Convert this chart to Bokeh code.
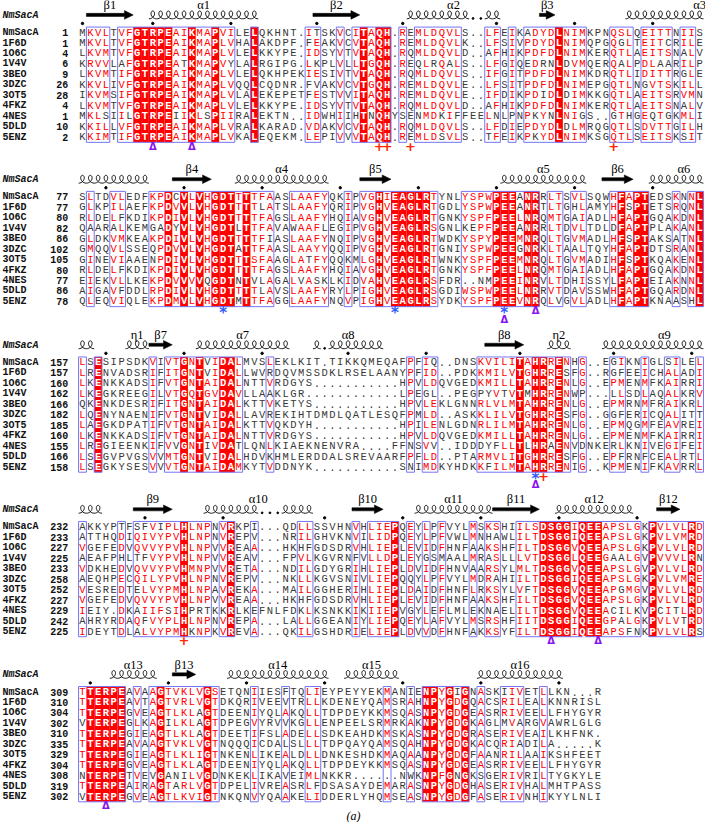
import math
from bokeh.plotting import figure
from bokeh.models import Range1d, ColumnDataSource
from bokeh.core.properties import value
from bokeh.embed import file_html
from bokeh.resources import INLINE

names = ["NmSacA", "1F6D", "1O6C", "1V4V", "3BEO", "3DZC", "3OT5", "4FKZ", "4NES", "5DLD", "5ENZ"]

seq_block1 = [
    "MKVLTVFGTRPEAIKMAPVILELQKHNT.ITSKVCITAQH.REMLDQVLS..LFEIKADYDLNIMKPNQSLQEITTNIIS",
    "MKVLTVFGTRPEAIKMAPLVHALAKDPF.FEAKVCVTAQH.REMLDQVLK..LFSIVPDYDLNIMQPGQGLTEITCRILE",
    "LKVMTVFGTRPEAIKMAPLVLELKKYPE.IDSYVTVTAQH.RQMLDQVLD..AFHIKPDFDLNIMKERQTLAEITSNALV",
    "KRVVLAFGTRPEATKMAPVYLALRGIPG.LKPLVLLTGQH.REQLRQALS..LFGIQEDRNLDVMQERQALPDLAARILP",
    "LKVMTIFGTRPEAIKMAPLVLELQKHPEKIESIVTVTAQH.RQMLDQVLS..IFGITPDFDLNIMKDRQTLIDITTRGLE",
    "KKVLIVFGTRPEAIKMAPLVQQLCQDNR.FVAKVCVTGQH.REMLDQVLE..LFSITPDFDLNIMEPGQTLNGVTSKILL",
    "IKVMSIFGTRPEAIKMAPLVLALEKEPETFESTVVITAQH.REMLDQVLE..IFDIKPDIDLDIMKKGQTLAEITSRVMN",
    "LKVMTVFGTRPEAIKMAPLVLELKKYPE.IDSYVTVTAQH.RQMLDQVLD..AFHIKPDFDLNIMKERQTLAEITSNALV",
    "MKLSIILGTRPEIIKLSPIIRALEKTN..IDWHIIHTNQHYSENMDKIFFEELNLPNPKYNLNIGS..GTHGEQTGKMLI",
    "KKILLVFGTRPEAIKMAPLVRALKARAD.VDAKVCVTAQH.RQMLDQVLS..LFDIEPDYDLDLMRQGQTLSDVTTGILH",
    "KKIMTIFGTRPEAIKMAPLVKALEQEKM.LEPIVVVTAQH.REMLDSVLS..TFEIKPKYDLNIMKSGQTLSEITSKSIT",
]
seq_block2 = [
    "SLTDVLEDFKPDCVLVHGDTTTTFAASLAAFYQKIPVGHIEAGLRTYNLYSPWPEEANRRLTSVLSQWHFAPTEDSKNNL",
    "GLKPILAEFKPDVVLVHGDTTTTLATSLAAFYQRIPVGHVEAGLRTGDLYSPWPEEANRTLTGHLAMYHFSPTETSRQNL",
    "RLDELFKDIKPDIVLVHGDTTTTFAGSLAAFYHQIAVGHVEAGLRTGNKYSPFPEELNRQMTGAIADLHFAPTGQAKDNL",
    "QAARALKEMGADYVLVHGDTLTTFAVAWAAFLEGIPVGHVEAGLRSGNLKEPFPEEANRRLTDVLTDLDFAPTPLAKANL",
    "GLDKVMKEAKPDIVLVHGDTTTTFIASLAAFYNQIPVGHVEAGLRTWDKYSPYPEEMNRQLTGVMADLHFSPTAKSATNL",
    "GMQQVLSSEQPDVVLVHGDTATTFAASLAAYYQQIPVGHVEAGLRTGNIYSPWPEEGNRKLTAALTQYHFAPTDTSRANL",
    "GINEVIAAENPDIVLVHGDTTTSFAAGLATFYQQKMLGHVEAGLRTWNKYSPFPEEMNRQLTGVMADIHFSPTKQAKENL",
    "RLDELFKDIKPDIVLVHGDTTTTFAGSLAAFYHQIAVGHVEAGLRTGNKYSPFPEELNRQMTGAIADLHFAPTGQAKDNL",
    "EIEKVLLKEKPDVVVVQGDTNTVLAGALVASKLKIDVAHVEAGLRSFDR..NMPEEINRVLTDHISSYLFAPTEIAKNNL",
    "AIGAVFDDLRPDIVLVHGDTTTTLAVSLAAFYRYLPIGHVEAGLRSGDIWSPWPEELNRRVTDAVSSWHFAPTGQARDNL",
    "QLEQVIQLEKPDMVLVHGDTMTTFAGGLAAFYNQVPIGHVEAGLRSYDKYSPFPEEVNRQLVGVLADLHFAPTKNAASHL",
]
seq_block3 = [
    "LSESIPSDKVIVTGNTVIDALMVSLEKLKIT.TIKKQMEQAFPFIQ..DNSKVILITAHRRENHG..EGIKNIGLSILEL",
    "LRENVADSRIFITGNTVIDALLWVRDQVMSSDKLRSELAANYPFID..PDKKMILVTGHRRESFG..RGFEEICHALADI",
    "LKENKKADSIFVTGNTAIDALNTTVRDGYS...........HPVLDQVGEDKMILLTAHRRENLG..EPMENMFKAIRRI",
    "LKEGKREEGILVTGQTGVDAVLLAAKLGR............LPEGL..PEGPYVTVTMHRRENWP...LLSDLAQALKRV",
    "QKENKDESRIFITGNTAIDALKTTVKETYS...........HPVLEKLGNNRLVLMTAHRRENLG..EPMRNMFRAIKRL",
    "LQENYNAENIFVTGNTVIDALLAVREKIHTDMDLQATLESQFPMLD..ASKKLILVTGHRRESFG..GGFERICQALITT",
    "LAEGKDPATIFVTGNTAIDALKTTVQKDYH...........HPILENLGDNRLILMTAHRRENLG..EPMQGMFEAVREI",
    "LKENKKADSIFVTGNTAIDALNTTVRDGYS...........HPVLDQVGEDKMILLTAHRRENLG..EPMENMFKAIRRI",
    "LREGIEENKIFVVGNTIVDATLQNLKIAEKNENVRA....FFNSVV..IDDDYFLLTLHRAENVDNKERLKNIVEGIFEI",
    "LSEGVPVGSVVMTGNTVIDALHDVKHMLERDDALSREVAARFPFLD..PTARMVLITGHRRESFG..EPFRNFCEALRTL",
    "LSEGKYSESVVVTGNTAIDAMKYTVDDNYK...........SNIMDKYHDKKFILMTAHRRENIG..KPMENIFKAVRRL",
]
seq_block4 = [
    "AKKYPTFSFVIPLHLNPNVRKPI...QDLLSSVHNVHLIEPQEYLPFVYLMSKSHIILSDSGGIQEEAPSLGKPVLVLRD",
    "ATTHQDIQIVYPVHLNPNVREPV...NRILGHVKNVILIDPQEYLPFVWLMNHAWLILTDSGGIQEEAPSLGKPVLVMRD",
    "VGEFEDVQVVYPVHLNPVVREAA...HKHFGDSDRVHLIEPLEVIDFHNFAAKSHFILTDSGGVQEEAPSLGKPVLVLRD",
    "AEAFPHLTFVYPVHLNPVVREAV...FPVLKGVRNFVLLDPLEYGSMAALMRASLLLVTDSGGLQEEGAALGVPVVVLRN",
    "VDKHEDVQVVYPVHMNPVVRETA...NDILGDYGRIHLIEPLDVIDFHNVAARSYLMLTDSGGVQEEAPSLGVPVLVLRD",
    "AEQHPECQILYPVHLNPNVREPV...NKLLKGVSNIVLIEPQQYLPFVYLMDRAHIILTDSGGIQEEAPSLGKPVLVMRE",
    "VESREDTELVYPMHLNPAVREKA...MAILGGHERIHLIEPLDAIDFHNFLRKSYLVFTDSGGVQEEAPGMGVPVLVLRD",
    "VGEFEDVQVVYPVHLNPVVREAA...HKHFGDSDRVHLIEPLEVIDFHNFAAKSHFILTDSGGVQEEAPSLGKPVLVLRD",
    "IEIY.DKAIIFSIHPRTKKRLKEFNLFDKLKSNKKIKIIEPVGYLEFLMLEKNAELILTDSGGVQEEACILKVPCITLRD",
    "AHRYRDAQFVYPLHLNPNVREPA...LALLGGEANIYLIEPQEYLAFVYLMSRSHFIITDSGGIQEEGPALGKPVLVTRD",
    "IDEYTDLALVYPMHKNPKVREVA...QKILGSHDRIELIEPLDVVDFHNFAKKSYFILTDSGGIQEEAPSFNKPVLVLRS",
]
seq_block5 = [
    "TTERPEAVAAGTVKLVGSETQNIIESFTQLIEYPEYYEKMANIENPYGIGNASKIIVETLLKN...R",
    "TTERPEAVTAGTVRLVGTDKQRIVEEVTRLLKDENEYQAMSRAHNPYGDGQACSRILEALKNNRISL",
    "TTERPEGVEAGTLKLAGTDEENIYQLAKQLLTDPDEYKKMSQASNPYGDGEASRRIVEELLFHYGYR",
    "VTERPEGLKAGILKLAGTDPEGVYRVVKGLLENPEELSRMRKAKNPYGDGKAGLMVARGVAWRLGLG",
    "TTERPEGIEAGTLKLAGTDEETIFSLADELLSDKEAHDKMSKASNPYGDGRASERIVEAILKHFNK.",
    "TTERPEAVAAGTVKLVGTNQQQICDALSLLLTDPQAYQAMSQAHNPYGDGKACQRIADILA.....K",
    "TTERPEGIEAGTLKLIGTNKENLIKEALDLLDNKESHDKMAQAANPYGDGFAANRILAAIKSHFEET",
    "TTERPEGVEAGTLKLAGTDEENIYQLAKQLLTDPDEYKKMSQASNPYGDGEASRRIVEELLFHYGYR",
    "NTERPETVEVGANILVGDNKEKLIKAVEIMLNKKR......NWKNPFGNGKSGERIVRILTYGKYLE",
    "TTERPEAIRAGTARLVGTDPELIVREASRLFDSASAYDEMARASNPYGDGHASERIVHALMHTPASS",
    "VTERPEGVEAGTLKVIGTNKQNVYQAAKELIDDERLYHQMSEASNPYGDGFASERIVNHIKYYLNLI",
]

start_block1 = [1, 1, 4, 6, 9, 26, 28, 4, 1, 10, 2]
start_block2 = [77, 77, 80, 82, 86, 102, 105, 80, 77, 86, 78]
start_block3 = [157, 157, 160, 162, 166, 182, 185, 160, 155, 166, 158]
start_block4 = [232, 233, 227, 225, 233, 258, 252, 227, 229, 242, 225]
start_block5 = [309, 310, 304, 302, 310, 335, 329, 304, 308, 319, 302]

# framed (similar) columns: B = framed, R = red, . = none
frames_block1 = (".BBB.BBRRR" "RRBBRBBRBB" "..R......B" "B..B.BRBRR"
                 ".B.BBBBBB." "..BB.B.BBB" "BRBBB...BB" "B.BBBB.BB.")
frames_block2 = (".B..BB...B" "BRBRBRBRRR" "BRBBB..BBB" "BB..B.BBRB"
                 "RRRRRB...B" "BBBRRRBRR." "BB.BB...BR" "BRR...B.BR")
frames_block3 = ("B.R......B" ".BBRBRBBRR" "B...B....." ".........."
                 "..B.BB...." ".BBBBBRBRR" "BRB.B...BB" "..B..BB..B")
frames_block4 = ("B....B.BBB" "BBBRBBB.BR" "..B.....BB" ".....B.BBB"
                 "R.B.B.B..." "B.BB..BBBR" "RRRBRRRBBB" "BB.RBBBBRB")
frames_block5 = ("BRRRRR.B.B" "RBBBBBRB.." "..B...B..B" "B........B"
                 "..B.RRBRBR" ".B..BBB..B" ".......")

# secondary structure of NmSacA: (kind, label, block_from, col_from, block_to, col_to)
ss_elements = [
    ("E", "β1", 0, 2, 0, 7), ("H", "α1", 0, 10, 0, 23), ("E", "β2", 0, 31, 0, 36),
    ("H", "α2", 0, 43, 0, 54), ("E", "β3", 0, 60, 0, 61), ("H", "α3", 0, 71, 1, 9),
    ("E", "β4", 1, 13, 1, 17), ("H", "α4", 1, 21, 1, 32), ("E", "β5", 1, 37, 1, 40),
    ("H", "α5", 1, 55, 1, 65), ("E", "β6", 1, 68, 1, 71), ("H", "α6", 1, 74, 2, 2),
    ("H", "η1", 2, 7, 2, 9), ("E", "β7", 2, 10, 2, 12), ("H", "α7", 2, 16, 2, 27),
    ("H", "α8", 2, 31, 2, 39), ("E", "β8", 2, 53, 2, 57), ("H", "η2", 2, 61, 2, 63),
    ("H", "α9", 2, 68, 3, 3), ("E", "β9", 3, 8, 3, 12), ("H", "α10", 3, 17, 3, 30),
    ("E", "β10", 3, 36, 3, 39), ("H", "α11", 3, 44, 3, 53), ("E", "β11", 3, 54, 3, 59),
    ("H", "α12", 3, 62, 3, 71), ("E", "β12", 3, 75, 3, 77), ("H", "α13", 4, 5, 4, 10),
    ("E", "β13", 4, 13, 4, 15), ("H", "α14", 4, 20, 4, 32), ("H", "α15", 4, 35, 4, 41),
    ("H", "α16", 4, 52, 4, 62),
]

# markers below blocks: (block, column, symbol, level)
markers = [
    (0, 10, "Δ", 0), (0, 15, "Δ", 0), (0, 39, "+", 0), (0, 40, "+", 0), (0, 43, "+", 0), (0, 69, "+", 0),
    (1, 19, "*", 0), (1, 41, "*", 0), (1, 55, "*", 0), (1, 55, "Δ", 1), (1, 59, "Δ", 0),
    (2, 59, "*", 0), (2, 60, "+", 0), (2, 59, "Δ", 1),
    (3, 14, "+", 0), (3, 61, "Δ", 0), (3, 67, "Δ", 0),
    (4, 4, "Δ", 0),
]

blocks = [seq_block1, seq_block2, seq_block3, seq_block4, seq_block5]
starts = [start_block1, start_block2, start_block3, start_block4, start_block5]
frames = [frames_block1, frames_block2, frames_block3, frames_block4, frames_block5]

X0, DX, DY = 85.0, 7.955, 10.66
ROW0 = [32.7, 200.2, 369.0, 536.7, 705.0]

RED = "#ff0000"
GRAY = "#383838"
BLUE = "#7474f4"
GROUPS = ["ILVM", "FYW", "KR", "DE", "NQ", "ST", "AG", "H", "P", "C"]


def cx(c):
    return X0 + (c - 1) * DX


def grp(ch):
    for i, g in enumerate(GROUPS):
        if ch in g:
            return i
    return -1


W, H = 705, 822
p = figure(width=W, height=H, x_range=Range1d(1.5, 719.5), y_range=Range1d(838, 0),
           output_backend="svg", toolbar_location=None, min_border=0)
p.axis.visible = False
p.grid.visible = False
p.outline_line_color = None
p.background_fill_color = "white"
p.border_fill_color = "white"

red_q = dict(l=[], r=[], t=[], b=[])
box_q = dict(l=[], r=[], t=[], b=[])
norm = dict(x=[], y=[], t=[], c=[])
white = dict(x=[], y=[], t=[])
lab = dict(x=[], y=[], t=[])
num = dict(x=[], y=[], t=[])
dots = dict(x=[], y=[])

for b, seqs in enumerate(blocks):
    n = len(seqs[0])
    assert all(len(s) == n for s in seqs), (b, [len(s) for s in seqs])
    assert len(frames[b]) == n, (b, len(frames[b]))
    y0 = ROW0[b]
    top = y0 - 5.6
    bot = y0 + (len(seqs) - 1) * DY + 5.3
    cls = []
    for c in range(n):
        col = [s[c] for s in seqs]
        strict = ('.' not in col) and len(set(col)) == 1
        cls.append('R' if strict else ('B' if frames[b][c] != '.' else '.'))
    c = 0
    while c < n:
        if cls[c] != '.':
            d = c
            while d + 1 < n and cls[d + 1] != '.':
                d += 1
            box_q['l'].append(cx(c + 1) - DX / 2); box_q['r'].append(cx(d + 1) + DX / 2)
            box_q['t'].append(top); box_q['b'].append(bot)
            c = d + 1
        else:
            c += 1
    for c in range(n):
        col = [s[c] for s in seqs]
        if cls[c] == 'R':
            red_q['l'].append(cx(c + 1) - DX / 2); red_q['r'].append(cx(c + 1) + DX / 2)
            red_q['t'].append(top); red_q['b'].append(bot)
        maj = None
        if cls[c] == 'B':
            cnt = {}
            for ch in col:
                if ch != '.':
                    g = grp(ch)
                    cnt[g] = cnt.get(g, 0) + 1
            maj = max(cnt, key=cnt.get)
        for r, ch in enumerate(col):
            x = cx(c + 1)
            y = y0 + r * DY
            if cls[c] == 'R':
                white['x'].append(x); white['y'].append(y); white['t'].append(ch)
            else:
                color = RED if (cls[c] == 'B' and ch != '.' and grp(ch) == maj) else GRAY
                norm['x'].append(x); norm['y'].append(y); norm['t'].append(ch); norm['c'].append(color)
    for r, nm in enumerate(names):
        y = y0 + r * DY
        lab['x'].append(3.5); lab['y'].append(y); lab['t'].append(nm)
        num['x'].append(70.5); num['y'].append(y); num['t'].append(str(starts[b][r]))
    res = starts[b][0] - 1
    for c in range(n):
        if seqs[0][c] != '.':
            res += 1
            if res % 10 == 0 or res == 1:
                dots['x'].append(cx(c + 1)); dots['y'].append(y0 - 9.3)

p.quad(left='l', right='r', top='t', bottom='b', source=ColumnDataSource(red_q),
       fill_color=RED, line_color=None)
p.quad(left='l', right='r', top='t', bottom='b', source=ColumnDataSource(box_q),
       fill_alpha=0, line_color=BLUE, line_width=1)
p.text(x='x', y='y', text='t', text_color='c', source=ColumnDataSource(norm),
       text_font=value("Liberation Mono"), text_font_size="10.5px",
       text_align="center", text_baseline="middle")
p.text(x='x', y='y', text='t', source=ColumnDataSource(white), text_color="white",
       text_font=value("Liberation Mono"), text_font_size="10.5px", text_font_style="bold",
       text_align="center", text_baseline="middle")
p.text(x='x', y='y', text='t', source=ColumnDataSource(lab), text_color="#111111",
       text_font=value("Liberation Mono"), text_font_size="10px", text_font_style="bold",
       text_align="left", text_baseline="middle")
p.text(x='x', y='y', text='t', source=ColumnDataSource(num), text_color="#111111",
       text_font=value("Liberation Mono"), text_font_size="10px", text_font_style="bold",
       text_align="right", text_baseline="middle")
p.scatter(x='x', y='y', source=ColumnDataSource(dots), marker="circle", size=2.4,
          color="black")

# NmSacA italic tag on every structure line
tag = dict(x=[3.5] * 5, y=[r - 17.5 for r in ROW0], t=["NmSacA"] * 5)
p.text(x='x', y='y', text='t', source=ColumnDataSource(tag), text_color="#111111",
       text_font=value("Liberation Mono"), text_font_size="10px",
       text_font_style="bold italic", text_align="left", text_baseline="middle")

# secondary structure
offs = [0]
for s in blocks:
    offs.append(offs[-1] + len(s[0]))
coil_xs, coil_ys = [], []
arr_xs, arr_ys = [], []
gap_dot = dict(x=[], y=[])
sslab = dict(x=[], y=[], t=[])
A = DX / (2 * math.pi)
BXC, BYC = 3.6, 4.0


def add_coil(xl, nloops, yc):
    steps = 24 * nloops
    xs, ys = [], []
    for i in range(steps + 1):
        t = -math.pi + 2 * math.pi * nloops * i / steps
        xs.append(xl + A * (t + math.pi) - BXC * math.sin(t))
        ys.append(yc - BYC * math.cos(t))
    coil_xs.append(xs); coil_ys.append(ys)


for kind, label, b0, c0, b1, c1 in ss_elements:
    g0 = offs[b0] + c0 - 1
    g1 = offs[b1] + c1 - 1
    gm = (g0 + g1) / 2.0
    lb = max(bb for bb in range(5) if offs[bb] <= gm)
    sslab['x'].append(X0 + (gm - offs[lb]) * DX)
    sslab['y'].append(ROW0[lb] - 28.0)
    sslab['t'].append(label)
    for bb in range(b0, b1 + 1):
        cs = c0 if bb == b0 else 1
        ce = c1 if bb == b1 else len(blocks[bb][0])
        yc = ROW0[bb] - 18.0
        if kind == "E":
            xl = cx(cs) - DX / 2
            xr = cx(ce) + DX / 2
            hl = min(9.0, xr - xl)
            arr_xs.append([xl, xr - hl, xr - hl, xr, xr - hl, xr - hl, xl])
            arr_ys.append([yc - 1.6, yc - 1.6, yc - 4.4, yc, yc + 4.4, yc + 1.6, yc + 1.6])
        else:
            ref = blocks[bb][0]
            c = cs
            while c <= ce:
                if ref[c - 1] == '.':
                    gap_dot['x'].append(cx(c)); gap_dot['y'].append(yc + 3.6)
                    c += 1
                else:
                    d = c
                    while d + 1 <= ce and ref[d] != '.':
                        d += 1
                    add_coil(cx(c) - DX / 2, d - c + 1, yc)
                    c = d + 1

p.multi_line(coil_xs, coil_ys, line_color="black", line_width=0.9)
p.patches(arr_xs, arr_ys, fill_color="black", line_color="black", line_width=0.5)
p.scatter(x='x', y='y', source=ColumnDataSource(gap_dot), marker="circle", size=1.8,
          color="black")
p.text(x='x', y='y', text='t', source=ColumnDataSource(sslab), text_color="black",
       text_font=value("Liberation Serif"), text_font_size="12.5px",
       text_align="center", text_baseline="middle")

# markers
mk_style = {"*": ("#2f5bff", "15px"), "+": ("#ff2a00", "13px"), "Δ": ("#8a14f0", "10px")}
for sym, (colr, fs) in mk_style.items():
    d = dict(x=[], y=[], t=[])
    for bb, c, s, lev in markers:
        if s != sym:
            continue
        d['x'].append(cx(c))
        d['y'].append(ROW0[bb] + 10 * DY + 9.5 + 8.5 * lev + (2.5 if s == "*" else 0))
        d['t'].append(s)
    p.text(x='x', y='y', text='t', source=ColumnDataSource(d), text_color=colr,
           text_font=value("DejaVu Sans"), text_font_size=fs, text_font_style="bold",
           text_align="center", text_baseline="middle")

p.text(x=[361], y=[831], text=["(a)"], text_color="black",
       text_font=value("Liberation Serif"), text_font_size="12px",
       text_font_style="italic", text_align="center", text_baseline="middle")

open("out.html", "w").write(file_html(p, INLINE))
